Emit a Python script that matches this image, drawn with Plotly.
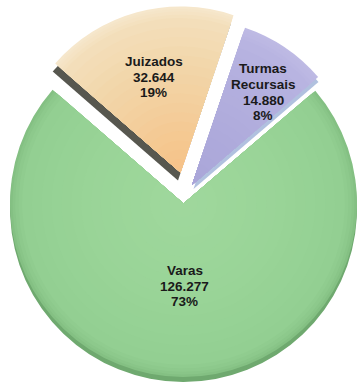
import math
import plotly.graph_objects as go

# ---- data -------------------------------------------------------------
categories = ["Juizados", "Turmas Recursais", "Varas"]
values = [32644, 14880, 126277]

# ---- canvas ------------------------------------------------------------
W, H = 358, 383
ROTATION = -49          # start angle of the first slice (degrees, clockwise from 12 o'clock)

# slice geometry in pixels: face centre, radius, and 3D "side" offset
geometry = {
    "Juizados": dict(cx=180.5, cy=172.5, r=166.0, side=(-2.5, 8.0)),
    "Turmas Recursais": dict(cx=192.0, cy=185.0, r=166.0, side=(1.5, 4.0)),
    "Varas": dict(cx=183.5, cy=203.5, r=173.5, side=(0.0, 5.0)),
}

# radial colour stops (radius fraction -> colour), used for smooth shading
shading = {
    "Juizados": [(1.00, "#F6E7CC"), (0.93, "#F3DEBA"), (0.70, "#F2D7AB"),
                 (0.45, "#F3CF9E"), (0.20, "#F5C78F"), (0.00, "#F6C189")],
    "Turmas Recursais": [(1.00, "#BEBAE4"), (0.90, "#B6B2E0"), (0.00, "#A9A5D8")],
    "Varas": [(1.00, "#84C083"), (0.975, "#8CC88B"), (0.93, "#93CF92"),
              (0.60, "#99D497"), (0.00, "#A0D89D")],
}
side_colors = {
    "Juizados": "#57574F",
    "Turmas Recursais": "#B1C1DF",
    "Varas": "#6FA96F",
}
LAYERS = 16

# label block centres (pixels) and line spacing
label_pos = {
    "Juizados": (153.5, 77.0),
    "Turmas Recursais": (263.3, 92.3),
    "Varas": (184.5, 286.0),
}
LINE_STEP = 15.8
FONT_SIZE = 13.5


def percent_labels(vals):
    """Whole-number percentages that add up to 100 (largest remainder)."""
    total = sum(vals)
    raw = [v * 100.0 / total for v in vals]
    floors = [math.floor(x) for x in raw]
    left = 100 - sum(floors)
    order = sorted(range(len(vals)), key=lambda i: raw[i] - floors[i], reverse=True)
    for i in order[:left]:
        floors[i] += 1
    return floors


def thousands(v):
    return f"{v:,}".replace(",", ".")


def hex_rgb(h):
    h = h.lstrip("#")
    return [int(h[k:k + 2], 16) for k in (0, 2, 4)]


def color_at(stops, f):
    """Linear interpolation between radial colour stops (fractions descending)."""
    for (f1, c1), (f2, c2) in zip(stops[:-1], stops[1:]):
        if f2 <= f <= f1:
            t = 0 if f1 == f2 else (f1 - f) / (f1 - f2)
            a, b = hex_rgb(c1), hex_rgb(c2)
            return "rgb({},{},{})".format(*[round(a[k] + (b[k] - a[k]) * t) for k in range(3)])
    return stops[-1][1]


def domain_for(cx, cy, r):
    r = min(r, cx, W - cx, cy, H - cy)
    return dict(
        x=[max(0.0, (cx - r) / W), min(1.0, (cx + r) / W)],
        y=[max(0.0, 1 - (cy + r) / H), min(1.0, 1 - (cy - r) / H)],
    )


def slice_trace(idx, cx, cy, r, color):
    cols = ["rgba(0,0,0,0)"] * len(values)
    cols[idx] = color
    return go.Pie(
        labels=categories,
        values=values,
        sort=False,
        direction="clockwise",
        rotation=ROTATION,
        marker=dict(colors=cols, line=dict(width=0)),
        textinfo="none",
        hoverinfo="skip",
        showlegend=False,
        domain=domain_for(cx, cy, r),
    )


fig = go.Figure()

draw_order = ["Varas", "Juizados", "Turmas Recursais"]
for name in draw_order:
    i = categories.index(name)
    g = geometry[name]
    sx, sy = g["side"]
    # extruded side of the slice
    fig.add_trace(slice_trace(i, g["cx"] + sx, g["cy"] + sy, g["r"], side_colors[name]))
    # face: outer rim first, then progressively smaller concentric layers
    rim_fracs = [1.0, 0.985, 0.97, 0.95]
    inner = [0.93 - k * (0.93 - 0.08) / (LAYERS - 1) for k in range(LAYERS)]
    for frac in rim_fracs + inner:
        fig.add_trace(slice_trace(i, g["cx"], g["cy"], g["r"] * frac,
                                  color_at(shading[name], frac)))

# value labels
pcts = percent_labels(values)
annotations = []
for i, name in enumerate(categories):
    lines = name.split(" ") + [thousands(values[i]), f"{pcts[i]}%"]
    x0, y0 = label_pos[name]
    n = len(lines)
    for k, line in enumerate(lines):
        py = y0 + (k - (n - 1) / 2) * LINE_STEP
        annotations.append(dict(
            text=f"<b>{line}</b>",
            x=x0 / W, y=1 - py / H,
            xref="paper", yref="paper",
            xanchor="center", yanchor="middle",
            showarrow=False,
            font=dict(family="Liberation Sans, Arial, sans-serif",
                      size=FONT_SIZE, color="#1A1A1A"),
        ))

fig.update_layout(
    width=W, height=H,
    margin=dict(l=0, r=0, t=0, b=0),
    paper_bgcolor="white",
    plot_bgcolor="white",
    showlegend=False,
    annotations=annotations,
)

fig.write_html("out.html")
